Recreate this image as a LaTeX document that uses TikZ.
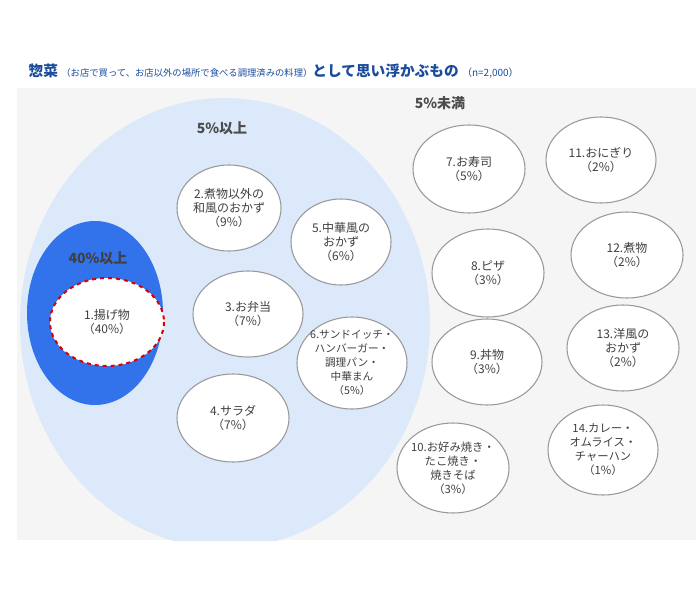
\documentclass[tikz,border=0pt]{standalone}
\usepackage{fontspec}
\setmainfont{Noto Sans CJK JP}
\begin{document}
\begin{tikzpicture}[x=0.75pt,y=-0.75pt,
  lbl/.style={font=\fontsize{9}{10.5}\selectfont,text=black!75,align=center}]
\definecolor{ttl}{HTML}{1A4C9C}
\useasboundingbox (0,0) rectangle (696,592);
\fill[gray!8] (17,88) rectangle (696,540);
\begin{scope}
\clip (17,88) rectangle (696,540);
\fill[fill={rgb,255:red,219;green,233;blue,251}] (225,323) ellipse [x radius=205,y radius=225];
\end{scope}
\fill[fill={rgb,255:red,50;green,115;blue,235}] (95,313) ellipse [x radius=68,y radius=92];
\draw[red!85!black,fill=white,line width=1.5pt,dashed] (107,322) ellipse [x radius=57,y radius=44];
\node[anchor=west,text=ttl,font=\bfseries\fontsize{11}{12}\selectfont] (title) at (24,71)
 {惣菜 {\mdseries\fontsize{7}{8}\selectfont（お店で買って、お店以外の場所で食べる調理済みの料理）}として思い浮かぶもの {\mdseries\fontsize{7.5}{8}\selectfont（n=2,000）}};
\node[font=\bfseries\fontsize{10.5}{12}\selectfont,text=black!75] (g40) at (98,258) {40\%以上};
\node[font=\bfseries\fontsize{10.5}{12}\selectfont,text=black!70] (g5) at (222,128) {5\%以上};
\node[font=\bfseries\fontsize{10.5}{12}\selectfont,text=black!70] (gl) at (440,103) {5\%未満};
\node[lbl] (n1) at (107,322) {1.揚げ物\\（40\%）};
\def\el#1#2#3#4#5#6{\draw[gray!80,line width=0.8pt,fill=white] (#2,#3) ellipse [x radius=#4,y radius=#5];
  \node[lbl] (#1) at (#2,#3) {#6};}
\el{n2}{229}{208}{52}{43}{2.煮物以外の\\和風のおかず\\（9\%）}
\el{n5}{341}{242}{50}{43}{5.中華風の\\おかず\\（6\%）}
\el{n3}{248}{314}{55}{43}{3.お弁当\\（7\%）}
\el{n6}{352}{363}{55}{46}{\fontsize{8}{9.5}\selectfont 6.サンドイッチ・\\\fontsize{8}{9.5}\selectfont ハンバーガー・\\\fontsize{8}{9.5}\selectfont 調理パン・\\\fontsize{8}{9.5}\selectfont 中華まん\\\fontsize{8}{9.5}\selectfont（5\%）}
\el{n4}{233}{418}{56}{44}{4.サラダ\\（7\%）}
\el{n7}{469}{169}{56}{44}{7.お寿司\\（5\%）}
\el{n11}{601}{160}{55}{43}{11.おにぎり\\（2\%）}
\el{n8}{488}{273}{56}{44}{8.ピザ\\（3\%）}
\el{n12}{627}{255}{56}{43}{12.煮物\\（2\%）}
\el{n9}{487}{362}{55}{43}{9.丼物\\（3\%）}
\el{n13}{623}{348}{56}{43}{13.洋風の\\おかず\\（2\%）}
\el{n10}{453}{468}{56}{45}{\fontsize{8.5}{10}\selectfont 10.お好み焼き・\\\fontsize{8.5}{10}\selectfont たこ焼き・\\\fontsize{8.5}{10}\selectfont 焼きそば\\\fontsize{8.5}{10}\selectfont（3\%）}
\el{n14}{603}{450}{55}{45}{\fontsize{8.5}{10}\selectfont 14.カレー・\\\fontsize{8.5}{10}\selectfont オムライス・\\\fontsize{8.5}{10}\selectfont チャーハン\\\fontsize{8.5}{10}\selectfont（1\%）}
\end{tikzpicture}
\end{document}
